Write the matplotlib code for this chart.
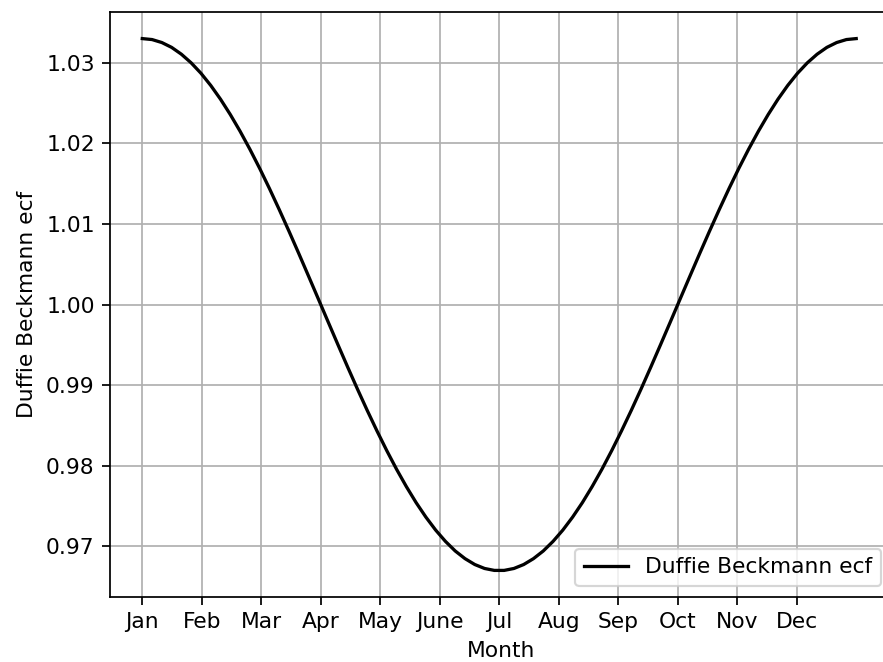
import matplotlib
matplotlib.use('Agg')

import numpy as np
import matplotlib.pyplot as plt

# day of year (5-day steps) and eccentricity correction factor
days = list(range(0, 366, 5))
ecf_first_half = [1.03300, 1.03288, 1.03251, 1.03191, 1.03106, 1.02999, 1.02870,
                  1.02719, 1.02548, 1.02358, 1.02151, 1.01928, 1.01691, 1.01441,
                  1.01180, 1.00911, 1.00635, 1.00354, 1.00071, 0.99787, 0.99505,
                  0.99226, 0.98953, 0.98688, 0.98433, 0.98189, 0.97958, 0.97743,
                  0.97544, 0.97364, 0.97203, 0.97063, 0.96944, 0.96849, 0.96776,
                  0.96727, 0.96703]
ecf_second_half = [0.96703, 0.96727, 0.96776, 0.96849, 0.96944, 0.97063, 0.97203,
                   0.97364, 0.97544, 0.97743, 0.97958, 0.98189, 0.98433, 0.98688,
                   0.98953, 0.99226, 0.99505, 0.99787, 1.00071, 1.00354, 1.00635,
                   1.00911, 1.01180, 1.01441, 1.01691, 1.01928, 1.02151, 1.02358,
                   1.02548, 1.02719, 1.02870, 1.02999, 1.03106, 1.03191, 1.03251,
                   1.03288, 1.03300]
ecf = ecf_first_half + ecf_second_half
months = ['Jan', 'Feb', 'Mar', 'Apr', 'May', 'June', 'Jul', 'Aug', 'Sep',
          'Oct', 'Nov', 'Dec']

dpi = 157
fig = plt.figure(figsize=(883 / dpi, 662 / dpi), dpi=dpi)
# the right spine sits just outside the saved picture, as in the original crop
ax = fig.add_axes([110 / 883, 1 - 597 / 662, 782 / 883, 585 / 662])

ax.plot(days, ecf, color='black', label='Duffie Beckmann ecf')
ax.set_xticks(np.arange(12) * 365 / 12)
ax.set_xticklabels(months)
ax.set_xlim(-16.5, 383.3)
ax.set_yticks([0.97, 0.98, 0.99, 1.00, 1.01, 1.02, 1.03])
ax.set_xlabel('Month')
ax.set_ylabel('Duffie Beckmann ecf')
ax.grid(True)
ax.legend(loc='lower right')

fig.savefig('out.png', dpi=dpi)
plt.close(fig)
